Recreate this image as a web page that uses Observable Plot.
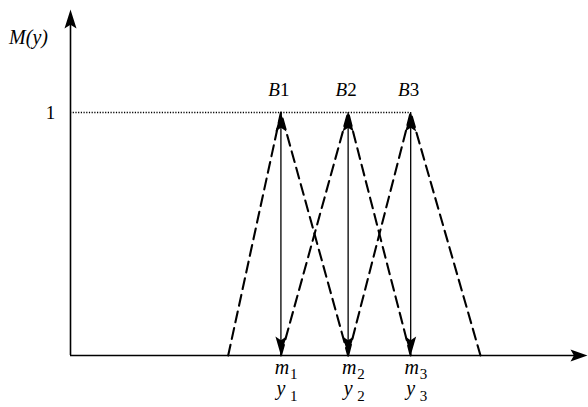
<!DOCTYPE html>
<html>
<head>
<meta charset="utf-8">
<script src="https://cdn.jsdelivr.net/npm/d3@7"></script>
<script src="https://cdn.jsdelivr.net/npm/@observablehq/plot@0.6"></script>
<style>
  body { margin: 0; background: #fff; }
  #chart svg { display: block; }
  #chart svg text { font-family: "Liberation Serif", "Times New Roman", serif; }
</style>
</head>
<body>
<div id="chart"></div>
<script>
// Fuzzy sets B1, B2, B3 (triangular membership functions)
const setNames = ["1", "2", "3"];
const peaks = [4.07, 5.37, 6.58];      // m1, m2, m3
const feetLeft = [3.05, 4.07, 5.37];
const feetRight = [5.37, 6.58, 7.93];
const peakValue = 1;
const yTickLabel = "1";
const xAxisEnd = 10;
const yAxisEnd = 1.424;

const tri = [];
setNames.forEach((s, i) => {
  tri.push({set: s, x: feetLeft[i], y: 0});
  tri.push({set: s, x: peaks[i], y: peakValue});
  tri.push({set: s, x: feetRight[i], y: 0});
});
const peakData = setNames.map((s, i) => ({set: s, x: peaks[i]}));

// filled arrowheads (tip at the symbol origin)
function head(dir, L, W) {
  return {
    draw(ctx) {
      const n = L * 0.8;
      const pts = {
        up:    [[0, 0], [W, L], [0, n], [-W, L]],
        down:  [[0, 0], [W, -L], [0, -n], [-W, -L]],
        right: [[0, 0], [-L, W], [-n, 0], [-L, -W]]
      }[dir];
      ctx.moveTo(pts[0][0], pts[0][1]);
      for (let k = 1; k < pts.length; k++) ctx.lineTo(pts[k][0], pts[k][1]);
      ctx.closePath();
    }
  };
}

const serif = "'Liberation Serif', 'Times New Roman', serif";

const chart = Plot.plot({
  width: 588,
  height: 407,
  marginLeft: 70,
  marginRight: 1,
  marginTop: 9,
  marginBottom: 52,
  x: {domain: [0, xAxisEnd], axis: null},
  y: {domain: [0, yAxisEnd], axis: null},
  style: {fontFamily: serif, background: "#fff", color: "#000"},
  marks: [
    // dotted level line at 1
    Plot.ruleY([peakValue], {x1: 0, x2: peaks[2], stroke: "#000", strokeWidth: 1.6, strokeDasharray: "1.2,1.5"}),
    // dashed triangles
    Plot.line(tri, {x: "x", y: "y", z: "set", stroke: "#000", strokeWidth: 2.1, strokeDasharray: "11,6"}),
    // vertical double arrows
    Plot.ruleX(peakData, {x: "x", y1: 0, y2: peakValue, stroke: "#000", strokeWidth: 1.3}),
    Plot.dot(peakData, {x: "x", y: peakValue, symbol: head("up", 19, 5.5), fill: "#000", stroke: "none"}),
    Plot.dot(peakData, {x: "x", y: 0, symbol: head("down", 19, 5.5), fill: "#000", stroke: "none"}),
    // axes
    Plot.ruleX([0], {y1: 0, y2: yAxisEnd - 0.04, stroke: "#000", strokeWidth: 1.6}),
    Plot.ruleY([0], {x1: 0, x2: xAxisEnd - 0.2, stroke: "#000", strokeWidth: 1.6}),
    Plot.dot([0], {x: 0, y: yAxisEnd, symbol: head("up", 19, 6), fill: "#000", stroke: "none"}),
    Plot.dot([0], {x: xAxisEnd, y: 0, symbol: head("right", 17, 6), fill: "#000", stroke: "none"}),
    // labels
    Plot.text(["M(y)"], {x: 0, y: 1.28, text: d => d, dx: -42, textAnchor: "middle", lineAnchor: "bottom", fontSize: 20, fontStyle: "italic", fontFamily: serif}),
    Plot.text([yTickLabel], {x: 0, y: peakValue, text: d => d, dx: -20, textAnchor: "middle", fontSize: 19, fontFamily: serif}),
    Plot.text(peakData, {x: "x", y: peakValue, text: () => "B", dx: -1, dy: -17, textAnchor: "end", lineAnchor: "bottom", fontSize: 19, fontStyle: "italic", fontFamily: serif}),
    Plot.text(peakData, {x: "x", y: peakValue, text: "set", dx: -1, dy: -17, textAnchor: "start", lineAnchor: "bottom", fontSize: 19, fontFamily: serif}),
    Plot.text(peakData, {x: "x", y: 0, text: () => "m", dx: 1, dy: 18, textAnchor: "middle", lineAnchor: "bottom", fontSize: 20, fontStyle: "italic", fontFamily: serif}),
    Plot.text(peakData, {x: "x", y: 0, text: "set", dx: 9, dy: 23, textAnchor: "start", lineAnchor: "bottom", fontSize: 15, fontFamily: serif}),
    Plot.text(peakData, {x: "x", y: 0, text: () => "y", dx: 0, dy: 39, textAnchor: "middle", lineAnchor: "bottom", fontSize: 20, fontStyle: "italic", fontFamily: serif}),
    Plot.text(peakData, {x: "x", y: 0, text: "set", dx: 9, dy: 45, textAnchor: "start", lineAnchor: "bottom", fontSize: 15, fontFamily: serif})
  ]
});
document.getElementById("chart").appendChild(chart);
</script>
</body>
</html>
